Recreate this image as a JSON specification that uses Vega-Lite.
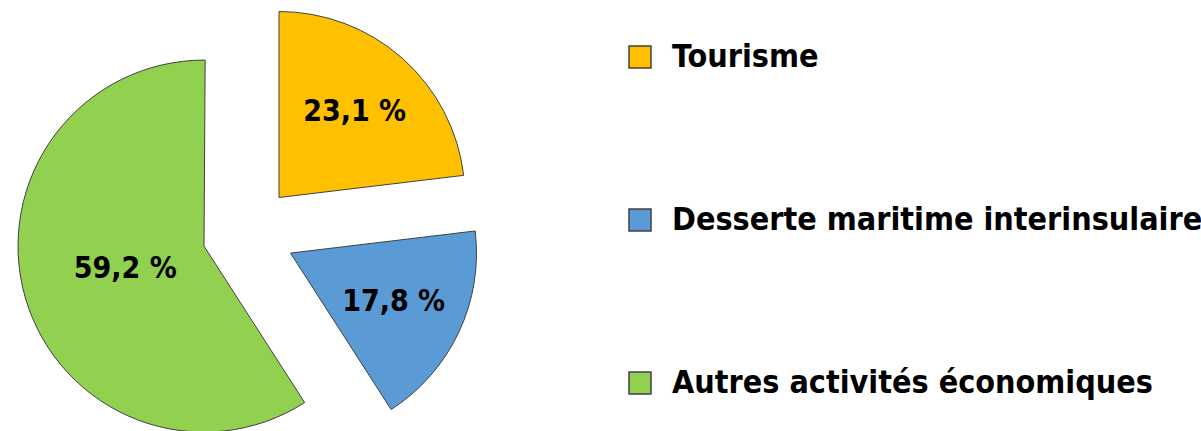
{
  "$schema": "https://vega.github.io/schema/vega-lite/v6.json",
  "width": 496,
  "height": 431,
  "autosize": {"type": "none"},
  "padding": {"left": 0, "top": 0, "right": 705, "bottom": 0},
  "background": "white",
  "config": {"view": {"stroke": null}, "font": "DejaVu Sans Condensed, Roboto, sans-serif"},
  "data": {"values": [
    {"cat": "Tourisme", "value": 23.1, "ord": 1},
    {"cat": "Desserte maritime interinsulaire", "value": 17.8, "ord": 2},
    {"cat": "Autres activités économiques", "value": 59.2, "ord": 3}
  ]},
  "transform": [
    {"stack": "value", "groupby": [], "sort": [{"field": "ord"}], "as": ["v0", "v1"]},
    {"calculate": "(datum.v0 + datum.v1) / 2", "as": "mid"},
    {"calculate": "replace(format(datum.value, '.1f'), '.', ',') + ' %'", "as": "label"}
  ],
  "layer": [
    {
      "transform": [{"filter": "datum.ord == 1"}],
      "mark": {"type": "arc", "outerRadius": 186, "xOffset": 31, "yOffset": -18, "stroke": "#404040", "strokeWidth": 1},
      "encoding": {
        "theta": {"field": "v0", "type": "quantitative", "scale": {"domain": [0, 100]}},
        "theta2": {"field": "v1"},
        "color": {
          "field": "cat", "type": "nominal",
          "scale": {"domain": ["Tourisme", "Desserte maritime interinsulaire", "Autres activités économiques"], "range": ["#FFC000", "#5B9BD5", "#92D050"]},
          "legend": {
            "title": null, "orient": "none", "legendX": 624, "legendY": 41, "padding": 0,
            "symbolType": "square", "symbolSize": 484, "symbolStrokeColor": "#404040", "symbolStrokeWidth": 1.5,
            "labelFont": "DejaVu Sans Condensed, Roboto, sans-serif", "labelFontSize": 32, "labelFontWeight": "bold", "labelColor": "black",
            "labelOffset": 16, "rowPadding": 131, "labelLimit": 700
          }
        }
      }
    },
    {
      "transform": [{"filter": "datum.ord == 2"}],
      "mark": {"type": "arc", "outerRadius": 186, "xOffset": 42.5, "yOffset": 37.6, "stroke": "#404040", "strokeWidth": 1},
      "encoding": {
        "theta": {"field": "v0", "type": "quantitative", "scale": {"domain": [0, 100]}},
        "theta2": {"field": "v1"},
        "color": {"field": "cat", "type": "nominal"}
      }
    },
    {
      "transform": [{"filter": "datum.ord == 3"}],
      "mark": {"type": "arc", "outerRadius": 186, "xOffset": -44, "yOffset": 30.6, "stroke": "#404040", "strokeWidth": 1},
      "encoding": {
        "theta": {"field": "v0", "type": "quantitative", "scale": {"domain": [0, 100]}},
        "theta2": {"field": "v1"},
        "color": {"field": "cat", "type": "nominal"}
      }
    },
    {
      "transform": [{"filter": "datum.ord == 1"}],
      "mark": {"type": "text", "radius": 114, "xOffset": 31, "yOffset": -18, "fontSize": 30, "fontWeight": "bold", "color": "black", "font": "DejaVu Sans Condensed, Roboto, sans-serif"},
      "encoding": {
        "theta": {"field": "mid", "type": "quantitative", "scale": {"domain": [0, 100]}},
        "text": {"field": "label"}
      }
    },
    {
      "transform": [{"filter": "datum.ord == 2"}],
      "mark": {"type": "text", "radius": 114, "xOffset": 42.5, "yOffset": 37.6, "fontSize": 30, "fontWeight": "bold", "color": "black", "font": "DejaVu Sans Condensed, Roboto, sans-serif"},
      "encoding": {
        "theta": {"field": "mid", "type": "quantitative", "scale": {"domain": [0, 100]}},
        "text": {"field": "label"}
      }
    },
    {
      "transform": [{"filter": "datum.ord == 3"}],
      "mark": {"type": "text", "radius": 82, "xOffset": -44, "yOffset": 30.6, "fontSize": 30, "fontWeight": "bold", "color": "black", "font": "DejaVu Sans Condensed, Roboto, sans-serif"},
      "encoding": {
        "theta": {"field": "mid", "type": "quantitative", "scale": {"domain": [0, 100]}},
        "text": {"field": "label"}
      }
    }
  ]
}
